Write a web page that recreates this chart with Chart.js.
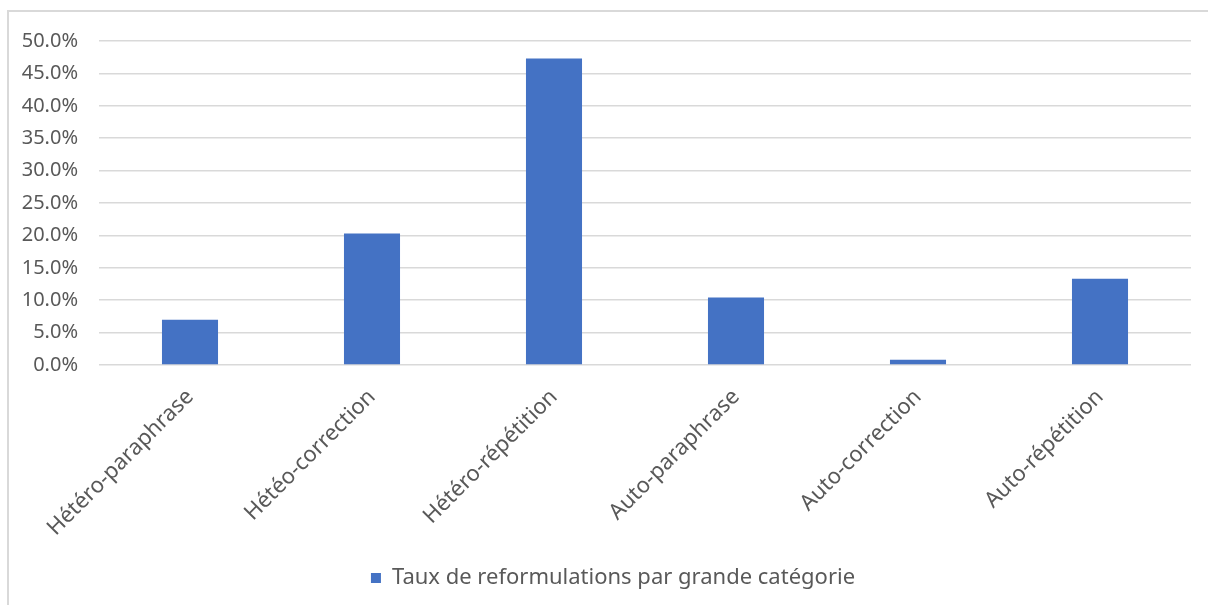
<!DOCTYPE html>
<html>
<head>
<meta charset="utf-8">
<script src="https://cdn.jsdelivr.net/npm/chart.js@4.4.1/dist/chart.umd.min.js"></script>
<style>
  body { margin: 0; background: #fff; }
  #frame {
    position: absolute;
    left: 7px;
    top: 10px;
    width: 1220px;
    height: 610px;
    border: 2px solid #d9d9d9;
    box-sizing: border-box;
  }
  #wrap {
    position: absolute;
    left: 9px;
    top: 8px;
    width: 1199px;
    height: 597px;
  }
</style>
</head>
<body>
<div id="frame"></div>
<div id="wrap"><canvas id="chart"></canvas></div>
<script>
const categories = [
  'Hétéro-paraphrase',
  'Hétéo-correction',
  'Hétéro-répétition',
  'Auto-paraphrase',
  'Auto-correction',
  'Auto-répétition'
];
const rates = [7.0, 20.3, 47.3, 10.4, 0.8, 13.3];
const seriesLabel = 'Taux de reformulations par grande catégorie';

const textColor = '#595959';
const gridColor = '#d9d9d9';
const barColor = '#4472c4';

Chart.defaults.font.family = '"Noto Sans", sans-serif';
Chart.defaults.color = textColor;

// the legend sits a bit right of the canvas centre in the original
const legendShift = {
  id: 'legendShift',
  afterLayout(chart) {
    if (chart.legend) {
      chart.legend.left += 13;
      chart.legend.right += 13;
    }
  },
};

const ctx = document.getElementById('chart').getContext('2d');
new Chart(ctx, {
  type: 'bar',
  data: {
    labels: categories,
    datasets: [
      {
        label: seriesLabel,
        data: rates,
        backgroundColor: barColor,
        borderWidth: 0,
        barPercentage: 1,
        categoryPercentage: 0.308,
      },
    ],
  },
  options: {
    responsive: true,
    maintainAspectRatio: false,
    animation: false,
    layout: {
      padding: { top: 0, right: 17, bottom: 6, left: 0 },
    },
    scales: {
      x: {
        grid: { display: false },
        border: { display: false },
        ticks: {
          font: { size: 22 },
          color: textColor,
          maxRotation: 45,
          minRotation: 45,
          padding: 11,
          autoSkip: false,
        },
        afterFit: (scale) => { scale.height = 192; },
      },
      y: {
        min: 0,
        max: 50,
        grid: {
          color: gridColor,
          lineWidth: 1.5,
          drawTicks: false,
        },
        border: { display: false },
        ticks: {
          stepSize: 5,
          font: { size: 20 },
          color: textColor,
          padding: 21,
          callback: (value) => value.toFixed(1) + '%',
        },
        afterFit: (scale) => { scale.width = 90; },
      },
    },
    plugins: {
      legend: {
        display: true,
        position: 'bottom',
        labels: {
          boxWidth: 10,
          boxHeight: 10,
          padding: 10,
          font: { size: 22 },
          color: textColor,
        },
      },
      tooltip: { enabled: false },
    },
  },
  plugins: [legendShift],
});
</script>
</body>
</html>
